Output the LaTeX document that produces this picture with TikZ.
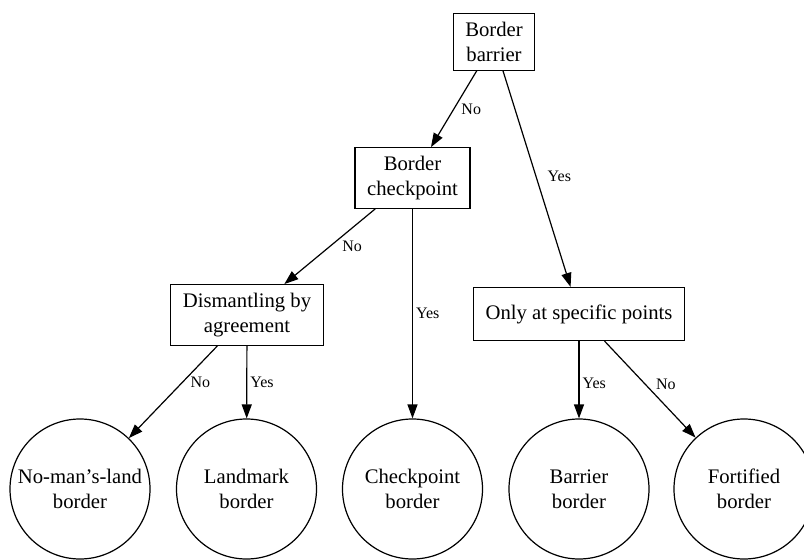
\documentclass[tikz,border=0pt]{standalone}
\usepackage{fontspec}
\setmainfont{Liberation Serif}
\usetikzlibrary{arrows.meta}

\begin{document}
\begin{tikzpicture}[
        x=1pt, y=-1pt,
        box/.style={rectangle, draw, line width=1.2pt, inner xsep=12pt, inner ysep=8.5pt, minimum height=53pt, align=center, font=\fontsize{20.7}{24.8}\selectfont},
        leaf/.style={circle, draw, line width=1.2pt, minimum size=140pt, inner sep=0pt, align=center, font=\fontsize{20.7}{24.8}\selectfont},
        arrow/.style={-{Triangle[length=14pt, width=10pt]}, line width=1.2pt},
        lbl/.style={font=\fontsize{16}{19}\selectfont, inner sep=1pt}
    ]
        \useasboundingbox (0,0) rectangle (804,560);

        % questions
        \node[box] (barrier) at (494,42) {Border\\barrier};
        \node[box] (checkpoint) at (412.5,178) {Border\\checkpoint};
        \node[box] (dismantle) at (247,315) {Dismantling by\\agreement};
        \node[box] (points) at (579,314) {Only at specific points};

        % outcomes
        \node[leaf] (nomans) at (80,489) {No-man’s-land\\border};
        \node[leaf] (landmark) at (246.5,489) {Landmark\\border};
        \node[leaf] (cpborder) at (412.5,489) {Checkpoint\\border};
        \node[leaf] (barborder) at (579,489) {Barrier\\border};
        \node[leaf] (fortified) at (744,489) {Fortified\\border};

        \draw[arrow] (barrier) -- node[lbl, pos=0.5, right=6pt] {No} (checkpoint);
        \draw[arrow] (barrier) -- node[lbl, pos=0.49, right=10pt] {Yes} (points);
        \draw[arrow] (checkpoint) -- node[lbl, pos=0.5, right=11pt] {No} (dismantle);
        \draw[arrow] (checkpoint) -- node[lbl, pos=0.5, right=2pt] {Yes} (cpborder);
        \draw[arrow] (dismantle) -- node[lbl, pos=0.4, right=7pt] {No} (nomans);
        \draw[arrow] (dismantle) -- node[lbl, pos=0.5, right=2pt] {Yes} (landmark);
        \draw[arrow] (points) -- node[lbl, pos=0.54, right=2pt] {Yes} (barborder);
        \draw[arrow] (points) -- node[lbl, pos=0.45, right=9pt] {No} (fortified);
    \end{tikzpicture}
\end{document}
